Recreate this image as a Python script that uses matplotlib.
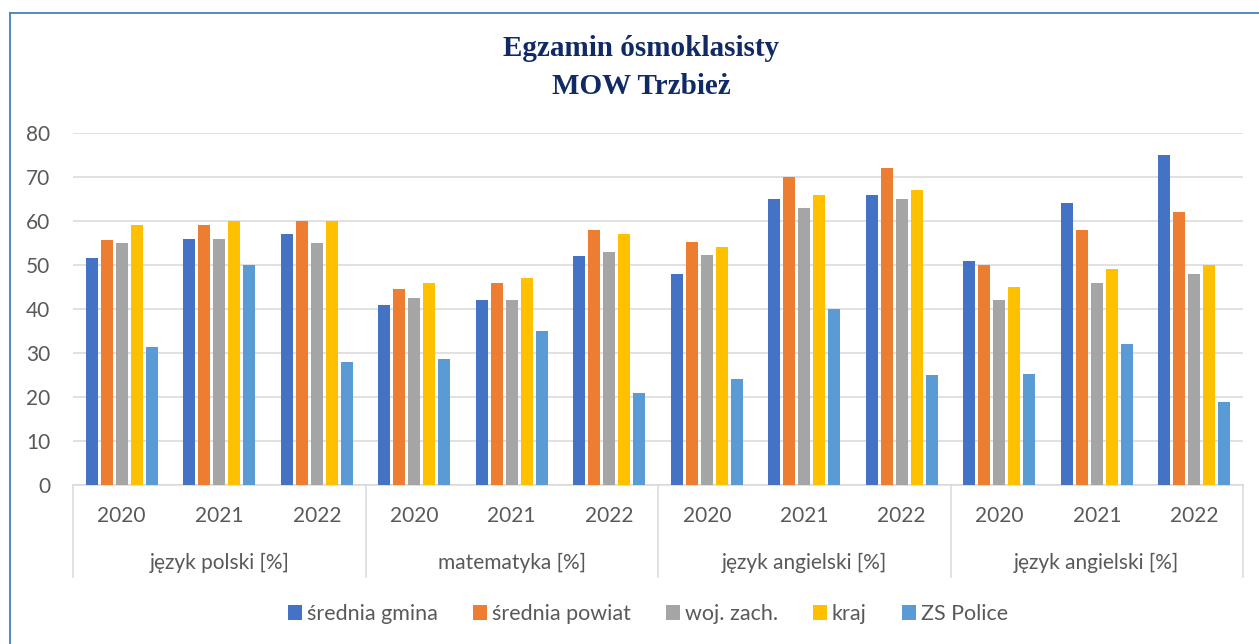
import matplotlib
matplotlib.use("Agg")
import matplotlib.pyplot as plt
from matplotlib.patches import Patch
from matplotlib.lines import Line2D
import numpy as np

plt.rcParams['font.family'] = ['Lato', 'DejaVu Sans']

subjects = ["język polski [%]", "matematyka [%]", "język angielski [%]", "język angielski [%]"]
years = ["2020", "2021", "2022"]
series_names = ["średnia gmina", "średnia powiat", "woj. zach.", "kraj", "ZS Police"]
colors = ["#4472C4", "#ED7D31", "#A5A5A5", "#FFC000", "#5B9BD5"]

srednia_gmina  = [51.5, 56, 57,   40.8, 42, 52,   48, 65, 66,   51, 64, 75]
srednia_powiat = [55.7, 59, 60,   44.5, 46, 58,   55.2, 70, 72, 50.1, 58, 62]
woj_zach       = [55.1, 56, 55,   42.4, 42, 53,   52.2, 63, 65, 42.1, 46, 48]
kraj           = [59, 60, 60,     46, 47, 57,     54, 66, 67,   45, 49, 50]
zs_police      = [31.4, 50, 27.9, 28.7, 35, 21,   24.1, 40, 25, 25.3, 32.1, 18.8]

series = [srednia_gmina, srednia_powiat, woj_zach, kraj, zs_police]

W, H = 1259, 644
fig = plt.figure(figsize=(W / 100, H / 100), dpi=100)

L, R, T, B = 73, 1243, 133, 485
ax = fig.add_axes([L / W, 1 - B / H, (R - L) / W, (B - T) / H])

ncat = len(subjects) * len(years)
x = np.arange(ncat) + 0.5
slot = 15 / ((R - L) / ncat)
bw = 11.7 / ((R - L) / ncat)
for k, (vals, c) in enumerate(zip(series, colors)):
    ax.bar(x + (k - 2) * slot, vals, width=bw, color=c, zorder=3)

ax.set_xlim(0, ncat)
ax.set_ylim(0, 80)
ax.set_yticks(range(0, 81, 10))
ax.grid(axis='y', color='#D9D9D9', linewidth=1.1, zorder=0)
for s in ['top', 'right', 'left']:
    ax.spines[s].set_visible(False)
ax.spines['bottom'].set_color('#D9D9D9')
ax.spines['bottom'].set_linewidth(1.1)

text_color = '#595959'
fs = 15
ax.tick_params(axis='y', length=0, pad=16.5, labelsize=fs, labelcolor=text_color)
ax.set_xticks(x)
ax.set_xticklabels(years * len(subjects))
ax.tick_params(axis='x', length=0, pad=22.3, labelsize=fs, labelcolor=text_color)
for lab in ax.get_xticklabels():
    lab.set_va('center')

trans = ax.get_xaxis_transform()
hpx = B - T
for g, subj in enumerate(subjects):
    ax.text(g * 3 + 1.5, -(563 - B) / hpx, subj, transform=trans, ha='center', va='center',
            fontsize=fs, color=text_color)
for g in range(len(subjects) + 1):
    ax.add_line(Line2D([g * 3, g * 3], [0, -(577 - B) / hpx], transform=trans,
                       color='#D9D9D9', linewidth=1.1, clip_on=False))

title_color = '#102A66'
fig.text(641 / W, 1 - 49 / H, "Egzamin ósmoklasisty", ha='center', va='center',
         fontsize=21, fontweight='bold', family='Liberation Serif', color=title_color)
fig.text(641 / W, 1 - 86 / H, "MOW Trzbież", ha='center', va='center',
         fontsize=21, fontweight='bold', family='Liberation Serif', color=title_color)

handles = [Patch(facecolor=c, edgecolor='none') for c in colors]
lfs = 15.5
fpx = lfs * 100 / 72
leg = fig.legend(handles, series_names, loc='center', bbox_to_anchor=(648 / W, 1 - 614 / H),
                 ncol=5, frameon=False, fontsize=lfs, handlelength=14 / fpx, handleheight=16 / fpx,
                 handletextpad=5 / fpx, columnspacing=35 / fpx, borderpad=0, borderaxespad=0)
for t in leg.get_texts():
    t.set_color(text_color)

border = '#4A7EC0'
fig.add_artist(Line2D([9.5 / W, 9.5 / W], [0, 1 - 12.5 / H], transform=fig.transFigure,
                      color=border, linewidth=1.3))
fig.add_artist(Line2D([9.5 / W, 1], [1 - 12.5 / H, 1 - 12.5 / H], transform=fig.transFigure,
                      color=border, linewidth=1.3))

fig.savefig("out.png", dpi=100, facecolor='white')
